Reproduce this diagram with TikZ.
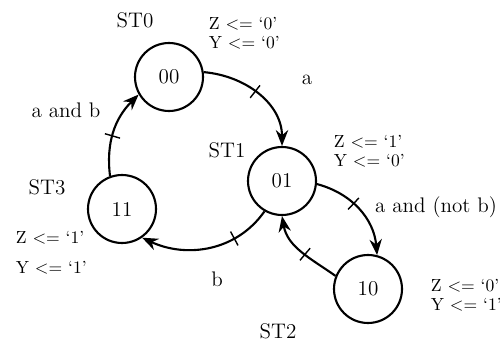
\documentclass[tikz,border=0pt]{standalone}
\usepackage{tikz}
\usetikzlibrary{positioning, calc, arrows.meta, decorations.markings}

\begin{document}
\begin{tikzpicture}[very thick, >={Stealth[length=9pt, width=7pt]},
    state/.style={circle, draw, very thick, minimum size=1.36cm, inner sep=0pt, font=\large},
    lbl/.style={font=\large},
    outs/.style={font=\normalsize, anchor=west, align=left},
    crossed/.style={postaction={decorate}, decoration={markings,
        mark=at position #1 with {\draw[-, thick] (0,-4.5pt) -- (0,4.5pt);}}}]
    \useasboundingbox (0,0) rectangle (10,6.84);

    % --- States ---
    \node[state] (s00) at (3.38, 5.30) {00};
    \node[state] (s01) at (5.64, 3.22) {01};
    \node[state] (s11) at (2.44, 2.66) {11};
    \node[state] (s10) at (7.36, 1.06) {10};

    % --- State names ---
    \node[lbl] (n0) at (2.70, 6.44) {ST0};
    \node[lbl] (n1) at (4.54, 3.84) {ST1};
    \node[lbl] (n3) at (0.94, 3.10) {ST3};
    \node[lbl] (n2) at (5.56, 0.22) {ST2};

    % --- Outputs ---
    \node[outs] (o0) at (4.04, 6.17) {Z <= `0'\\[-1pt] Y <= `0'};
    \node[outs] (o1) at (6.54, 3.81) {Z <= `1'\\[-1pt] Y <= `0'};
    \node[outs] (o3) at (0.18, 1.79) {Z <= `1'\\[5pt] Y <= `1'};
    \node[outs] (o2) at (8.48, 0.94) {Z <= `0'\\[-1pt] Y <= `1'};

    % --- Transitions ---
    \draw[->, crossed=0.47] (s00.8) to[out=-5, in=90] (s01.north);
    \draw[->, crossed=0.45] (s11.110) to[out=97, in=225] (s00.210);
    \draw[->, crossed=0.3] (s01.240) to[out=235, in=-25] (s11.-55);
    \draw[->, crossed=0.42] (s01.-5) to[out=-15, in=95] (s10.75);
    \draw[->, crossed=0.45] (s10.158) to[out=145, in=-80] (s01.-90);

    % --- Conditions ---
    \node[lbl] (ca) at (6.14, 5.24) {a};
    \node[lbl] (cab) at (1.32, 4.64) {a and b};
    \node[lbl] (cb) at (4.34, 1.26) {b};
    \node[lbl] (canb) at (8.72, 2.70) {a and (not b)};

\end{tikzpicture}
\end{document}
